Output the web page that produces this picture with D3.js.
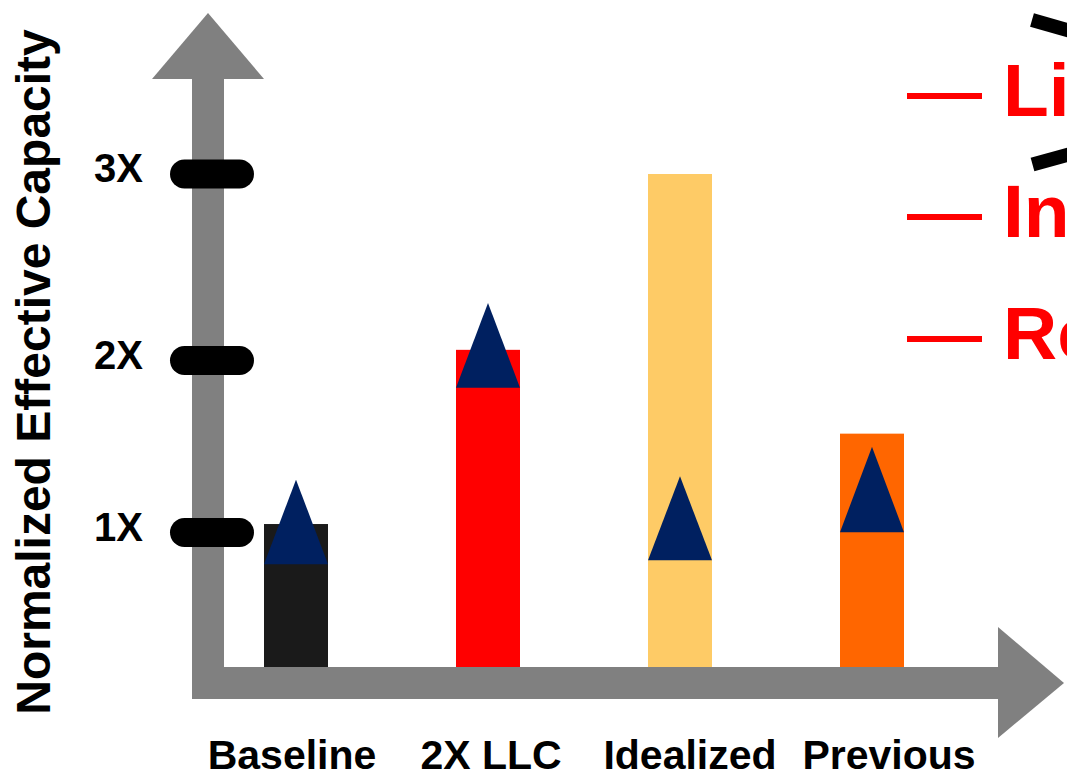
<!DOCTYPE html>
<html>
<head>
<meta charset="utf-8">
<script src="https://cdn.jsdelivr.net/npm/d3@7"></script>
<style>
  html, body { margin: 0; padding: 0; background: #fff; overflow: hidden; }
  svg { display: block; }
  text { font-family: "Liberation Sans", Arial, Helvetica, sans-serif; font-weight: bold; }
</style>
</head>
<body>
<script>
// ---- data (values in units of the normalized-capacity axis) ----
const categories = ["Baseline", "2X LLC", "Idealized", "Previous"];
const barValues = [0.87, 1.93, 3.0, 1.42];
const barColors = ["#1a1a1a", "#ff0000", "#fecb66", "#ff6600"];
const markerTop = [1.14, 2.215, 1.16, 1.34];
const markerBase = [0.625, 1.70, 0.65, 0.82];
const tickValues = [0.818, 1.865, 3.0];
const tickLabels = ["1X", "2X", "3X"];
const legendLabels = ["Line", "Index", "Replacement"];
const yTitle = "Normalized Effective Capacity";

const W = 1067, H = 778;
const svg = d3.select("body").append("svg").attr("width", W).attr("height", H);

// scales
const x = d3.scaleBand().domain(categories).range([192, 976])
  .paddingInner(2 / 3).paddingOuter(0.375);
const xLabel = d3.scalePoint().domain(categories).range([292, 889]);
const y = d3.scaleLinear().domain([0, 3]).range([667, 174]);

const gray = "#808080";

// y axis arrow
svg.append("rect").attr("x", 192).attr("y", 78).attr("width", 32).attr("height", 699 - 78).attr("fill", gray);
svg.append("path").attr("d", d3.line()([[152, 79], [264, 79], [208, 13]]) + "Z").attr("fill", gray);

// x axis arrow
svg.append("rect").attr("x", 192).attr("y", y(0)).attr("width", 998 - 192).attr("height", 32).attr("fill", gray);
svg.append("path").attr("d", d3.line()([[998, 627], [998, 738], [1064, 683]]) + "Z").attr("fill", gray);

// ticks
const ticks = svg.append("g");
ticks.selectAll("rect").data(tickValues).join("rect")
  .attr("x", 170).attr("width", 84)
  .attr("y", d => y(d) - 14.5).attr("height", 29)
  .attr("rx", 14.5).attr("ry", 14.5)
  .attr("fill", "#000");
ticks.selectAll("text").data(tickValues).join("text")
  .attr("x", 143).attr("y", d => y(d) + 8)
  .attr("text-anchor", "end")
  .attr("font-size", 40)
  .attr("fill", "#000")
  .text((d, i) => tickLabels[i]);

// bars
svg.append("g").selectAll("rect").data(categories).join("rect")
  .attr("x", d => x(d))
  .attr("width", x.bandwidth())
  .attr("y", (d, i) => y(barValues[i]))
  .attr("height", (d, i) => y(0) - y(barValues[i]))
  .attr("fill", (d, i) => barColors[i]);

// triangle markers
svg.append("g").selectAll("path").data(categories).join("path")
  .attr("d", (d, i) => {
    const x0 = x(d), x1 = x(d) + x.bandwidth(), xm = x(d) + x.bandwidth() / 2;
    return d3.line()([[x0, y(markerBase[i])], [x1, y(markerBase[i])], [xm, y(markerTop[i])]]) + "Z";
  })
  .attr("fill", "#002060");

// category labels
svg.append("g").selectAll("text").data(categories).join("text")
  .attr("x", d => xLabel(d))
  .attr("y", 769)
  .attr("text-anchor", "middle")
  .attr("font-size", 41)
  .attr("fill", "#000")
  .text(d => d);

// y title
svg.append("text")
  .attr("transform", "translate(50,372) rotate(-90)")
  .attr("text-anchor", "middle")
  .attr("font-size", 48)
  .attr("fill", "#000")
  .text(yTitle);

// legend (cut off at right edge, as in the reference)
const legY = [96, 217, 339];
const leg = svg.append("g");
leg.selectAll("line").data(legendLabels).join("line")
  .attr("x1", 907).attr("x2", 982)
  .attr("y1", (d, i) => legY[i]).attr("y2", (d, i) => legY[i])
  .attr("stroke", "#ff0000").attr("stroke-width", 6);
leg.selectAll("text").data(legendLabels).join("text")
  .attr("x", 1003).attr("y", (d, i) => legY[i] + 20)
  .attr("font-size", 75)
  .attr("fill", "#ff0000")
  .text(d => d);

// black bracket strokes at the top right
svg.append("line").attr("x1", 1032).attr("y1", 20).attr("x2", 1080).attr("y2", 33.7)
  .attr("stroke", "#000").attr("stroke-width", 14);
svg.append("line").attr("x1", 1032.5).attr("y1", 164.5).attr("x2", 1080).attr("y2", 151.4)
  .attr("stroke", "#000").attr("stroke-width", 14);
</script>
</body>
</html>
